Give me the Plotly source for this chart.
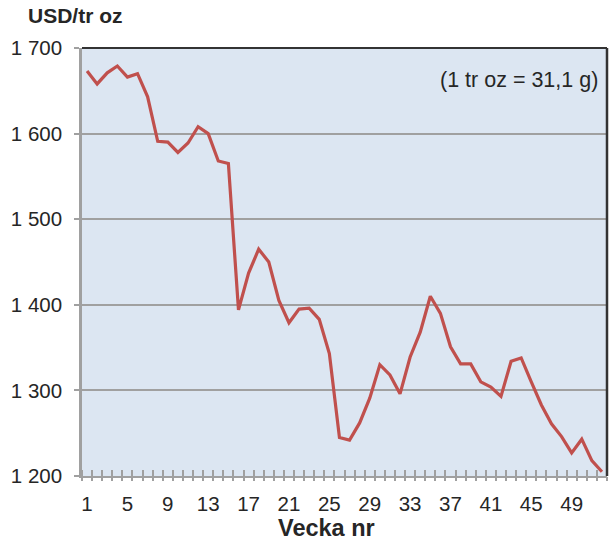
import plotly.graph_objects as go

weeks = list(range(1, 53))
price = [1673, 1658, 1671, 1679, 1666, 1670, 1643, 1591, 1590, 1578,
         1589, 1608, 1600, 1568, 1565, 1394, 1437, 1465, 1450, 1405,
         1379, 1395, 1396, 1383, 1343, 1245, 1242, 1262, 1291, 1330,
         1318, 1296, 1339, 1368, 1410, 1390, 1351, 1331, 1331, 1310,
         1304, 1293, 1334, 1338, 1310, 1283, 1261, 1246, 1227, 1243,
         1218, 1205]
x_labels = list(range(1, 53, 4))
y_ticks = [1200, 1300, 1400, 1500, 1600, 1700]
boundaries = [w - 0.5 for w in weeks] + [weeks[-1] + 0.5]

FONT = "Liberation Sans, Arial, sans-serif"
TXT = "#262626"
GRID = "#a0a0a0"

fig = go.Figure()
fig.add_trace(go.Scatter(x=weeks, y=price, mode="lines",
                         line=dict(color="#c0504d", width=3.2),
                         hoverinfo="skip", showlegend=False))
# helper trace for the outer half of the category-boundary ticks
fig.add_trace(go.Scatter(x=[weeks[0]], y=[price[0]], xaxis="x2", mode="markers",
                         marker=dict(opacity=0), showlegend=False, hoverinfo="skip"))

fig.update_layout(
    width=613, height=543,
    margin=dict(l=82, r=6, t=48, b=67, autoexpand=False),
    paper_bgcolor="white",
    plot_bgcolor="#dce6f2",
    separators=", ",
    font=dict(family=FONT, size=20.5, color=TXT),
    xaxis=dict(range=[0.5, 52.5], tickmode="array", tickvals=x_labels,
               ticktext=[str(v) for v in x_labels], ticks="",
               showgrid=False, zeroline=False, automargin=False,
               showline=True, linecolor=GRID, linewidth=2,
               ticklabelstandoff=8,
               minor=dict(tickmode="array", tickvals=boundaries, ticks="inside",
                          ticklen=6, tickcolor=GRID, tickwidth=2, showgrid=False)),
    xaxis2=dict(range=[0.5, 52.5], overlaying="x", anchor="y", side="bottom",
                tickmode="array", tickvals=boundaries, ticks="outside",
                ticklen=4, tickcolor=GRID, tickwidth=2, showticklabels=False,
                showgrid=False, zeroline=False, showline=False, automargin=False),
    yaxis=dict(range=[1200, 1700], tickmode="array", tickvals=y_ticks,
               tickformat=",d", ticks="outside", ticklen=5, tickcolor=GRID,
               tickwidth=2, showline=True, linecolor=GRID, linewidth=2.5,
               gridcolor=GRID, gridwidth=2, zeroline=False, automargin=False,
               ticklabelstandoff=8),
    shapes=[
        dict(type="line", xref="paper", yref="paper", x0=0, x1=1, y0=1, y1=1,
             line=dict(color="#333333", width=2)),
        dict(type="line", xref="paper", yref="paper", x0=1, x1=1, y0=0, y1=1,
             line=dict(color="#333333", width=2.5)),
    ],
    annotations=[
        dict(text="<b>USD/tr oz</b>", xref="paper", yref="paper",
             x=-0.1067, y=1, xanchor="left", yanchor="middle", yshift=33,
             showarrow=False, font=dict(size=21, color=TXT)),
        dict(text="<b>Vecka nr</b>", xref="paper", yref="paper",
             x=0.466, y=0, xanchor="center", yanchor="middle", yshift=-52,
             showarrow=False, font=dict(size=23.5, color=TXT)),
        dict(text="(1 tr oz = 31,1 g)", xref="paper", yref="y",
             x=0.986, y=1663, xanchor="right", yanchor="middle",
             showarrow=False, font=dict(size=21.5, color=TXT)),
    ],
)

fig.write_html("out.html", config={"displayModeBar": False},
               post_script="document.body.style.margin='0';"
                           "document.body.style.padding='0';")
